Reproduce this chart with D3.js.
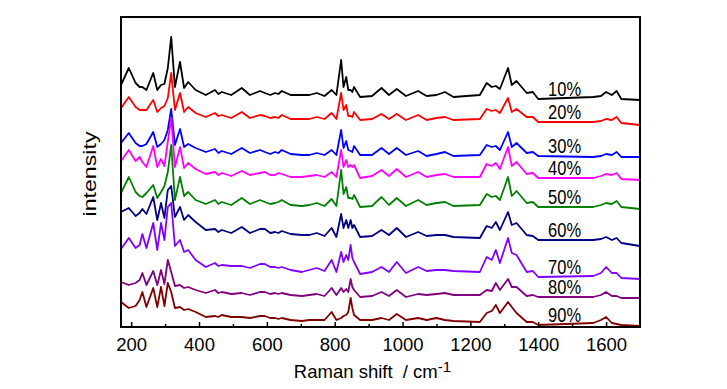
<!DOCTYPE html>
<html>
<head>
<meta charset="utf-8">
<script src="https://cdn.jsdelivr.net/npm/d3@7"></script>
<style>
  body { margin: 0; background: #fff; }
  svg { display: block; }
</style>
</head>
<body>
<div id="chart"></div>
<script>
const width = 727
const height = 389

// Raman shift (cm-1) of the vertices
const shifts = [170, 193, 213, 225, 233, 245, 265, 277, 288, 298, 308, 318, 329, 344, 356, 368, 390, 420,
  447, 457, 467, 495, 526, 550, 580, 594, 610, 624, 634, 644, 670, 703, 725, 747, 770, 791, 805, 819, 826, 834, 840, 847, 852, 857, 875, 910, 938, 960, 983, 1010, 1046,
  1071, 1100, 1125, 1150, 1228, 1248, 1263, 1275, 1287, 1311, 1322, 1336, 1366, 1384, 1400, 1562, 1585, 1600, 1617, 1631, 1645, 1700]

// stacked intensities (offset already included), one array per spectrum
const p10 = [242, 259, 244, 240, 240, 237, 254, 237, 242, 243, 259, 290, 240, 265, 239, 245, 237, 232,
  237, 233, 235, 232, 239, 232, 236, 234, 232, 234, 233, 236, 232, 232, 232, 234, 231, 237, 232, 267, 240, 250, 237, 237, 235, 240, 230, 231, 239, 232, 238, 231, 236,
  231, 232, 235, 230, 232, 244, 240, 241, 238, 259, 242, 246, 234, 235, 228, 230, 231, 235, 232, 236, 228, 227]
const p20 = [219, 230, 220, 217, 217, 217, 227, 215, 219, 221, 229, 254, 217, 234, 215, 220, 214, 210,
  214, 211, 212, 209, 215, 209, 212, 211, 209, 210, 209, 212, 208, 208, 208, 210, 208, 214, 208, 234, 217, 222, 211, 211, 210, 215, 207, 208, 213, 208, 213, 207, 212,
  207, 209, 210, 207, 208, 218, 216, 217, 214, 229, 215, 218, 210, 210, 205, 205, 206, 208, 207, 210, 204, 202]
const p30 = [184, 194, 184, 181, 181, 183, 195, 180, 183, 187, 197, 218, 182, 198, 180, 183, 179, 175,
  178, 174, 176, 173, 179, 174, 177, 175, 173, 175, 174, 177, 173, 172, 172, 174, 172, 177, 172, 197, 179, 186, 177, 176, 175, 181, 172, 172, 179, 173, 179, 172, 176,
  171, 173, 175, 171, 172, 182, 180, 181, 177, 195, 180, 184, 174, 175, 171, 170, 171, 173, 172, 175, 170, 170]
const p40 = [166, 177, 166, 170, 165, 160, 181, 160, 168, 161, 185, 209, 160, 180, 159, 164, 158, 153,
  155, 152, 154, 151, 156, 152, 154, 155, 152, 152, 154, 153, 150, 150, 151, 152, 150, 155, 150, 177, 160, 167, 160, 162, 160, 162, 149, 151, 157, 151, 158, 150, 155,
  150, 152, 153, 150, 150, 163, 161, 164, 158, 180, 161, 165, 153, 154, 149, 149, 151, 153, 152, 154, 148, 147]
const p50 = [134, 150, 135, 131, 130, 134, 142, 129, 135, 141, 155, 182, 127, 150, 131, 135, 127, 123,
  127, 123, 125, 122, 129, 123, 127, 125, 123, 124, 125, 127, 122, 121, 122, 124, 121, 128, 121, 157, 133, 140, 129, 129, 128, 132, 120, 121, 130, 122, 129, 121, 127,
  122, 124, 125, 121, 122, 133, 130, 131, 127, 150, 131, 136, 124, 125, 120, 120, 122, 124, 123, 126, 120, 118]
const p60 = [115, 119, 111, 114, 118, 113, 130, 107, 124, 109, 137, 141, 110, 120, 107, 112, 105, 97,
  98, 95, 97, 94, 100, 94, 98, 98, 94, 95, 94, 96, 93, 92, 92, 94, 91, 99, 90, 113, 99, 107, 99, 107, 99, 102, 90, 91, 97, 92, 99, 90, 95,
  91, 92, 92, 90, 89, 101, 99, 105, 97, 115, 102, 104, 92, 91, 87, 87, 88, 90, 87, 89, 84, 81]
const p70 = [78, 89, 79, 82, 93, 79, 104, 77, 104, 87, 120, 124, 81, 87, 75, 77, 67, 60,
  64, 61, 62, 61, 61, 59, 63, 63, 60, 60, 59, 60, 57, 55, 57, 59, 56, 67, 55, 75, 65, 72, 67, 82, 69, 65, 53, 55, 60, 55, 65, 54, 60,
  56, 57, 57, 56, 55, 70, 67, 77, 64, 89, 74, 72, 55, 56, 50, 51, 54, 60, 54, 54, 49, 48]
const p80 = [45, 42, 44, 47, 54, 42, 56, 42, 57, 43, 67, 55, 41, 42, 39, 40, 37, 34,
  37, 34, 35, 33, 34, 32, 35, 35, 33, 34, 33, 34, 32, 31, 32, 33, 31, 39, 32, 39, 35, 38, 35, 48, 40, 37, 30, 31, 35, 31, 37, 30, 33,
  32, 33, 34, 32, 32, 37, 36, 44, 37, 48, 40, 40, 31, 32, 30, 30, 32, 35, 31, 31, 29, 29]
const p90 = [25, 19, 21, 27, 35, 20, 39, 20, 40, 21, 44, 35, 19, 20, 17, 18, 15, 10,
  11, 10, 12, 10, 10, 9, 11, 11, 9, 9, 8, 9, 7, 6, 7, 7, 7, 15, 7, 9, 11, 12, 15, 29, 19, 12, 7, 7, 9, 7, 13, 7, 9,
  7, 9, 7, 6, 5, 14, 16, 22, 14, 25, 20, 14, 5, 5, 2, 4, 7, 10, 4, 3, 2, 1]

const series = [p10, p20, p30, p40, p50, p60, p70, p80, p90]
const labels = ['10%', '20%', '30%', '40%', '50%', '60%', '70%', '80%', '90%']
const colors = ['#000000', '#ff0000', '#0000ff', '#ff00ff', '#008000', '#000080', '#8000ff', '#800080', '#800000']

const xTicks = [200, 400, 600, 800, 1000, 1200, 1400, 1600]
const xMinor = [300, 500, 700, 900, 1100, 1300, 1500]

const margin = { top: 17, right: 87, bottom: 62, left: 121 }
const innerW = width - margin.left - margin.right
const innerH = height - margin.top - margin.bottom

const svg = d3.select('#chart')
  .append('svg')
    .attr('width', width)
    .attr('height', height)

const g = svg.append('g')
  .attr('transform', `translate(${margin.left},${margin.top})`)

const x = d3.scaleLinear().domain([170, 1700]).range([0, innerW])
const y = d3.scaleLinear().domain([0, 310]).range([innerH, 0])

const line = d3.line()
  .x(d => x(d[0]))
  .y(d => y(d[1]))

g.append('defs').append('clipPath')
  .attr('id', 'plot-clip')
  .append('rect')
    .attr('width', innerW)
    .attr('height', innerH)

const plot = g.append('g').attr('clip-path', 'url(#plot-clip)')

series.forEach((vals, i) => {
  plot.append('path')
    .datum(shifts.map((s, k) => [s, vals[k]]))
    .attr('d', line)
    .attr('fill', 'none')
    .attr('stroke', colors[i])
    .attr('stroke-width', 1.8)
    .attr('stroke-linejoin', 'round')
})

// percentage labels sit just above each trace, left edge near 1430 cm-1
const k1400 = shifts.indexOf(1400)
g.selectAll('.lab')
  .data(labels)
  .enter()
  .append('text')
    .attr('class', 'lab')
    .attr('x', x(1429))
    .attr('y', (d, i) => y(series[i][k1400]) - 3)
    .attr('font-family', "'Liberation Sans', Arial, sans-serif")
    .attr('font-size', 20)
    .attr('textLength', 33)
    .attr('lengthAdjust', 'spacingAndGlyphs')
    .attr('fill', '#000')
    .text(d => d)

// bottom axis: inward ticks
const xAxis = g.append('g')
  .attr('transform', `translate(0,${innerH})`)
  .call(d3.axisBottom(x).tickValues(xTicks).tickSize(-5).tickPadding(9).tickFormat(d3.format('d')))
xAxis.select('.domain').remove()
xAxis.selectAll('line').attr('stroke', '#000').attr('stroke-width', 1.5)
xAxis.selectAll('text')
  .attr('font-family', "'Liberation Sans', Arial, sans-serif")
  .attr('font-size', 18.5)
  .attr('fill', '#000')
  .attr('dy', 0)
  .attr('y', 24)

g.append('g')
  .attr('transform', `translate(0,${innerH})`)
  .call(d3.axisBottom(x).tickValues(xMinor).tickSize(-3).tickFormat(''))
  .call(a => a.select('.domain').remove())
  .selectAll('line').attr('stroke', '#000').attr('stroke-width', 1.5)

// frame
g.append('rect')
  .attr('width', innerW)
  .attr('height', innerH)
  .attr('fill', 'none')
  .attr('stroke', '#000')
  .attr('stroke-width', 2)

// axis titles
const xt = svg.append('text')
  .attr('x', 372.5)
  .attr('y', 377.7)
  .attr('text-anchor', 'middle')
  .attr('font-family', "'Liberation Sans', Arial, sans-serif")
  .attr('font-size', 18.5)
  .style('white-space', 'pre')
  .attr('fill', '#000')
xt.append('tspan').text('Raman shift  / cm')
xt.append('tspan').attr('dy', -6).attr('font-size', 15).text('-1')

svg.append('text')
  .attr('transform', 'translate(96,174) rotate(-90)')
  .attr('text-anchor', 'middle')
  .attr('font-family', "'Liberation Sans', Arial, sans-serif")
  .attr('font-size', 19)
  .attr('textLength', 85)
  .attr('lengthAdjust', 'spacingAndGlyphs')
  .attr('fill', '#000')
  .text('intensity')
</script>
</body>
</html>
